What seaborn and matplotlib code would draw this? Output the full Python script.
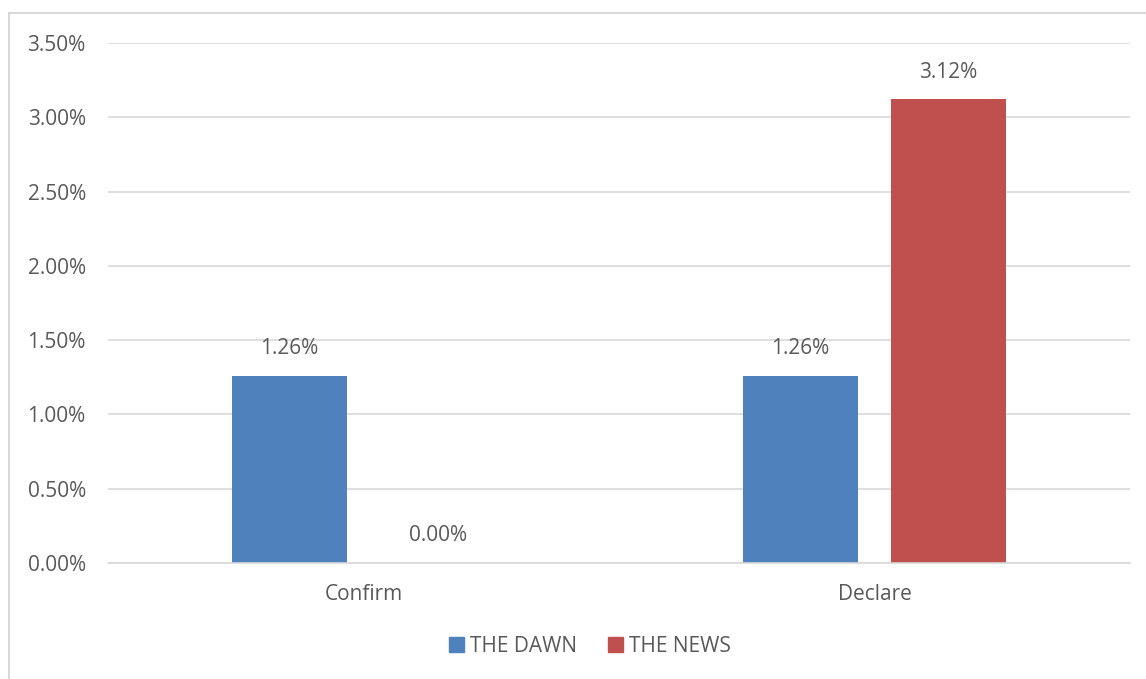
import matplotlib
matplotlib.use("Agg")
import matplotlib.pyplot as plt
import matplotlib.patches as mpatches
from matplotlib.ticker import FuncFormatter, MultipleLocator
import seaborn as sns
import pandas as pd

categories = ["Confirm", "Declare"]
series_names = ["THE DAWN", "THE NEWS"]
dawn_values = [0.0126, 0.0126]
news_values = [0.0000, 0.0312]
colors = ["#4F81BD", "#C0504D"]

df = pd.DataFrame({
    "category": categories * 2,
    "series": [series_names[0]] * 2 + [series_names[1]] * 2,
    "value": dawn_values + news_values,
})

sns.set_theme(style="white")
plt.rcParams["font.family"] = ["Open Sans", "DejaVu Sans"]
text_color = "#595959"
grid_color = "#D9D9D9"
fs = 15

fig = plt.figure(figsize=(11.46, 6.79), dpi=100)
ax = fig.add_axes([108 / 1146, 1 - 563 / 679, (1130 - 108) / 1146, (563 - 43) / 679])

sns.barplot(data=df, x="category", y="value", hue="series", order=categories,
            hue_order=series_names, palette=colors, width=0.58, gap=0.224,
            saturation=1, linewidth=0, ax=ax, legend=False)

ax.set_ylim(0, 0.035)
ax.yaxis.set_major_locator(MultipleLocator(0.005))
ax.yaxis.set_major_formatter(FuncFormatter(lambda v, _: f"{v * 100:.2f}%"))
ax.set_xlabel("")
ax.set_ylabel("")
ax.set_axisbelow(True)
ax.grid(axis="y", color=grid_color, linewidth=1.2)
ax.grid(axis="x", visible=False)
for side in ["top", "right", "left"]:
    ax.spines[side].set_visible(False)
ax.spines["bottom"].set_color(grid_color)
ax.spines["bottom"].set_linewidth(1.2)
ax.tick_params(axis="both", length=0, labelsize=fs, colors=text_color)
ax.tick_params(axis="y", pad=16)
ax.tick_params(axis="x", pad=15)

for container in ax.containers:
    ax.bar_label(container, labels=[f"{v * 100:.2f}%" for v in container.datavalues],
                 padding=12, fontsize=fs, color=text_color)

handles = [mpatches.Patch(color=c, label=n) for c, n in zip(colors, series_names)]
fig.legend(handles=handles, loc="center", bbox_to_anchor=(590 / 1146, 1 - 646 / 679),
           ncol=2, frameon=False, fontsize=fs, labelcolor=text_color,
           handlelength=0.7, handleheight=0.7, handletextpad=0.3, columnspacing=1.5)

# outer chart frame
fig.patches.append(mpatches.Rectangle((9 / 1146, -0.05), 1.2, 1 - 13 / 679 + 0.05,
                                      transform=fig.transFigure, fill=False,
                                      edgecolor=grid_color, linewidth=1.5))

fig.savefig("out.png", dpi=100, facecolor="white")
